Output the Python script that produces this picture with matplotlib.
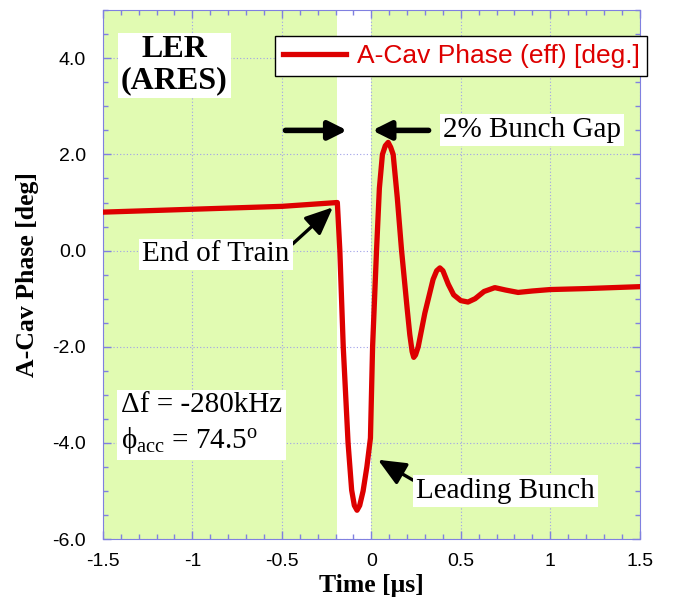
import matplotlib
matplotlib.use("Agg")
import matplotlib.pyplot as plt

# time [us] and effective A-cavity phase [deg]
t = [-1.5, -1.0, -0.5, -0.19, -0.176, -0.157, -0.13, -0.11, -0.095, -0.08,
     -0.065, -0.046, -0.025, -0.005, 0.007, 0.029, 0.045, 0.062, 0.078, 0.094,
     0.108, 0.122, 0.145, 0.169, 0.2, 0.215, 0.228, 0.237, 0.247, 0.262, 0.299,
     0.345, 0.365, 0.383, 0.40, 0.43, 0.46, 0.5, 0.54, 0.58, 0.63,
     0.69, 0.75, 0.82, 0.9, 1.0, 1.2, 1.5]
phase = [0.80, 0.86, 0.92, 1.0, 0.0, -2.0, -4.0, -4.98, -5.3, -5.4,
         -5.3, -5.0, -4.5, -3.9, -2.0, 0.0, 1.3, 2.0, 2.18, 2.25,
         2.15, 2.0, 1.1, 0.0, -1.2, -1.75, -2.1, -2.22, -2.17, -2.0, -1.3,
         -0.6, -0.42, -0.36, -0.42, -0.7, -0.92, -1.04, -1.07, -1.0, -0.85,
         -0.77, -0.82, -0.87, -0.84, -0.81, -0.79, -0.75]

gap_start, gap_end = -0.19, 0.0

xticks = [-1.5, -1, -0.5, 0, 0.5, 1, 1.5]
xlabels = ["-1.5", "-1", "-0.5", "0", "0.5", "1", "1.5"]
yticks = [-6, -4, -2, 0, 2, 4]
ylabels = ["-6.0", "-4.0", "-2.0", "0.0", "2.0", "4.0"]

plt.rcParams["mathtext.fontset"] = "custom"
plt.rcParams["mathtext.rm"] = "Liberation Serif"
plt.rcParams["mathtext.it"] = "Liberation Serif:italic"

serif = "Liberation Serif"
sans = "Liberation Sans"
axcol = "#8080e0"
red = "#dd0000"

fig = plt.figure(figsize=(6.77, 5.99), dpi=100)
ax = fig.add_axes([0.152, 0.100, 0.793, 0.883])
ax.set_facecolor("#e1fbb2")
ax.axvspan(gap_start, gap_end, color="white", zorder=0.5, lw=0)

ax.plot(t, phase, color=red, lw=3.8, solid_joinstyle="round",
        label="A-Cav Phase (eff) [deg.]", zorder=3)

ax.set_xlim(-1.5, 1.5)
ax.set_ylim(-6, 5)
ax.set_xticks(xticks)
ax.set_xticklabels(xlabels, fontfamily=sans, fontsize=14)
ax.set_yticks(yticks)
ax.set_yticklabels(ylabels, fontfamily=sans, fontsize=14)
ax.set_xticks([x / 10 for x in range(-15, 16)], minor=True)
ax.set_yticks([y / 2 for y in range(-12, 11)], minor=True)
ax.tick_params(which="both", direction="in", top=True, right=True, color=axcol)
ax.tick_params(which="major", length=6, width=1)
ax.tick_params(axis="x", which="major", pad=10)
ax.tick_params(axis="y", which="major", pad=12)
ax.tick_params(which="minor", length=3.5, width=1)
for s in ax.spines.values():
    s.set_color(axcol)
ax.grid(True, which="major", color="#a0a0e8", ls=(0, (1, 2)), lw=0.8)
ax.set_axisbelow(True)

ax.set_xlabel("Time [μs]", fontfamily=serif, fontweight="bold", fontsize=18.5, labelpad=3)
ax.set_ylabel("A-Cav Phase [deg]", fontfamily=serif, fontweight="bold", fontsize=18.5, labelpad=10)

box = dict(facecolor="white", edgecolor="none", pad=2)
ax.text(-1.1, 3.85, "LER\n(ARES)", fontfamily=serif, fontweight="bold", fontsize=23,
        ha="center", va="center", linespacing=1.1, bbox=box, zorder=4)

ax.text(0.40, 2.5, "2% Bunch Gap", fontfamily=serif, fontsize=21, ha="left", va="center",
        bbox=box, zorder=4)
arr = dict(arrowstyle="-|>,head_length=1.1,head_width=0.55", color="black", lw=4,
           shrinkA=0, shrinkB=0)
ax.annotate("", xy=(-0.135, 2.5), xytext=(-0.48, 2.5), arrowprops=arr, zorder=4)
ax.annotate("", xy=(0.005, 2.5), xytext=(0.32, 2.5), arrowprops=arr, zorder=4)

arr2 = dict(arrowstyle="-|>,head_length=0.8,head_width=0.35", color="black", lw=2.4,
            shrinkA=0, shrinkB=0)
ax.annotate("End of Train", xy=(-0.215, 0.9), xytext=(-1.28, -0.08),
            fontfamily=serif, fontsize=21, ha="left", va="center", bbox=box,
            arrowprops=dict(arr2, relpos=(1.0, 0.8)), zorder=4)
ax.annotate("Leading Bunch", xy=(0.037, -4.35), xytext=(0.25, -5.0),
            fontfamily=serif, fontsize=21, ha="left", va="center", bbox=box,
            arrowprops=dict(arr2, relpos=(0.0, 0.85)), zorder=4)

ax.text(-1.4, -3.6, "Δf = -280kHz\nϕ$_{\\mathrm{acc}}$ = 74.5$^{\\mathrm{o}}$",
        fontfamily=[serif, "DejaVu Serif"], fontsize=21, ha="left", va="center",
        linespacing=1.3, bbox=dict(facecolor="white", edgecolor="none", pad=3), zorder=4)

leg = ax.legend(loc="upper left", bbox_to_anchor=(0.32, 0.951), borderaxespad=0,
                frameon=True, fancybox=False, framealpha=1, edgecolor="black",
                prop={"family": sans, "size": 19}, labelcolor=red,
                handlelength=2.4, borderpad=0.3, handletextpad=0.4)
leg.get_frame().set_linewidth(1.0)
leg.set_zorder(5)

fig.savefig("out.png", dpi=100)
